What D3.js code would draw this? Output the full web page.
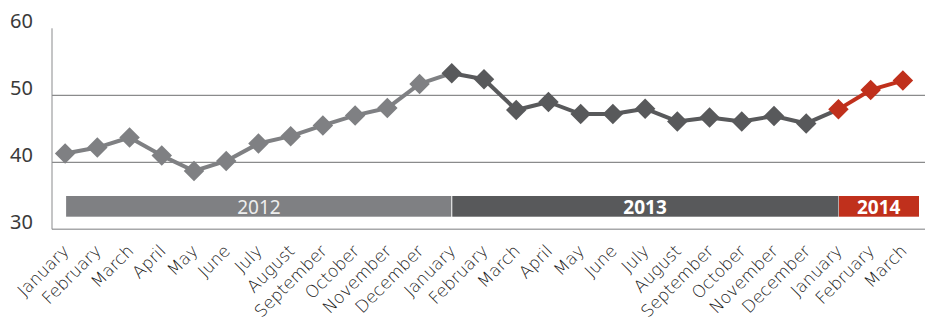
<!DOCTYPE html>
<html><head><meta charset="utf-8">
<script src="https://cdn.jsdelivr.net/npm/d3@7"></script>
<style>
html,body{margin:0;padding:0;background:#fff;}
svg{display:block;}
</style></head>
<body>
<svg id="chart" width="925" height="327"></svg>
<script>
const months = ["January","February","March","April","May","June","July","August","September","October","November","December",
  "January","February","March","April","May","June","July","August","September","October","November","December",
  "January","February","March"];
const years = ["2012","2012","2012","2012","2012","2012","2012","2012","2012","2012","2012","2012",
  "2013","2013","2013","2013","2013","2013","2013","2013","2013","2013","2013","2013",
  "2014","2014","2014"];
const values = [41.3,42.2,43.7,41.0,38.7,40.2,42.8,43.9,45.5,47.0,48.1,51.7,
  53.3,52.4,47.8,49.0,47.2,47.2,48.0,46.1,46.7,46.1,46.9,45.8,
  47.9,50.8,52.2];
const yearList = ["2012","2013","2014"];
const yTicks = [30,40,50,60];

(function(){
const colors = {"2012":"#7f8083","2013":"#58595b","2014":"#c0301c"};
const svg = d3.select("#chart");
const W = 925;
const mLeft = 52, mTop = 28.3, mBottom = 229.3;

const x = d3.scalePoint().domain(d3.range(values.length)).range([49, 919]).padding(0.5);
const y = d3.scaleLinear().domain([30,60]).range([mBottom, mTop]);

svg.append("g").selectAll("line").data([40,50]).join("line")
  .attr("x1", mLeft).attr("x2", W).attr("y1", d=>y(d)).attr("y2", d=>y(d))
  .attr("stroke", "#6d6e70").attr("stroke-width", 1);
svg.append("line").attr("x1", mLeft).attr("x2", W).attr("y1", y(30)).attr("y2", y(30))
  .attr("stroke", "#a7a8aa").attr("stroke-width", 1.5);
svg.append("line").attr("x1", mLeft).attr("x2", mLeft).attr("y1", y(60)).attr("y2", y(30))
  .attr("stroke", "#8a8b8d").attr("stroke-width", 1);

svg.append("g").selectAll("text").data(yTicks).join("text")
  .attr("x", 10).attr("y", d=>y(d))
  .attr("font-family", "Noto Sans, sans-serif").attr("font-size", 20)
  .attr("fill", "#3a3a3a").text(d=>d);

const step = x.step();
const bandData = yearList.map((yr, k) => {
  const first = years.indexOf(yr);
  const last = years.lastIndexOf(yr);
  const x0 = x(first) + (k===0 ? 1 : 0);
  const x1 = (last+1 < values.length) ? x(last+1) : x(last) + step/2;
  return {yr, x0, x1};
});
const bandTop = 196, bandH = 20.7;
svg.append("g").selectAll("rect").data(bandData).join("rect")
  .attr("x", d=>d.x0 + (d.yr==="2012"?0:0.5)).attr("width", d=>d.x1 - d.x0 - 0.5)
  .attr("y", bandTop).attr("height", bandH)
  .attr("fill", d=>colors[d.yr]);
svg.append("g").selectAll("text").data(bandData).join("text")
  .attr("x", d=>(d.x0+d.x1)/2).attr("y", bandTop + bandH - 2.5)
  .attr("text-anchor", "middle")
  .attr("font-family", "Noto Sans, sans-serif").attr("font-size", 19)
  .attr("font-weight", d=>d.yr==="2012" ? 400 : 700)
  .attr("fill", d=>d.yr==="2012" ? "#eeeeee" : "#ffffff")
  .text(d=>d.yr);

const segs = d3.range(values.length-1).map(i => ({i}));
svg.append("g").selectAll("line").data(segs).join("line")
  .attr("x1", d=>x(d.i)).attr("y1", d=>y(values[d.i]))
  .attr("x2", d=>x(d.i+1)).attr("y2", d=>y(values[d.i+1]))
  .attr("stroke", d=>colors[years[d.i]]).attr("stroke-width", 4);

const s = 14.5;
svg.append("g").selectAll("rect").data(values).join("rect")
  .attr("x", -s/2).attr("y", -s/2).attr("width", s).attr("height", s)
  .attr("transform", (d,i)=>`translate(${x(i)},${y(d)}) rotate(45)`)
  .attr("fill", (d,i)=>colors[years[i]]);

svg.append("g").selectAll("text").data(months).join("text")
  .attr("transform", (d,i)=>`translate(${x(i)+5},${252}) rotate(-45)`)
  .attr("text-anchor", "end")
  .attr("font-family", "DejaVu Sans, sans-serif").attr("font-size", 17).attr("font-weight", 200)
  .attr("fill", "#1a1a1a").text(d=>d);
})();
</script>
</body></html>
